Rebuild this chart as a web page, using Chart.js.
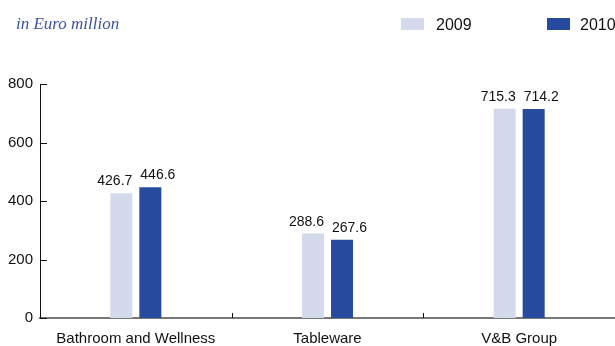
<!DOCTYPE html>
<html>
<head>
<meta charset="utf-8">
<script src="https://cdn.jsdelivr.net/npm/chart.js@4/dist/chart.umd.min.js"></script>
<style>
  html, body { margin: 0; padding: 0; background: #ffffff; }
  #wrap { width: 615px; height: 346px; position: relative; }
</style>
</head>
<body>
<div id="wrap"><canvas id="c" width="615" height="346"></canvas></div>
<script>
// Segment revenue, in Euro million
const categories = ['Bathroom and Wellness', 'Tableware', 'V&B Group'];
const seriesNames = ['2009', '2010'];
const values2009 = [426.7, 288.6, 715.3];
const values2010 = [446.6, 267.6, 714.2];
const yTicks = [0, 200, 400, 600, 800];
const unitLabel = 'in Euro million';

const LIGHT = '#d3daeb';
const DARK = '#264b9e';
const SANS = '"Liberation Sans", Arial, Helvetica, sans-serif';

// Title, legend, inward axis ticks, category separators and value labels
const decorations = {
  id: 'decorations',
  afterDatasetsDraw(chart) {
    const ctx = chart.ctx;
    const x = chart.scales.x, y = chart.scales.y;
    const area = chart.chartArea;
    ctx.save();

    // y-axis tick marks pointing into the plot
    ctx.strokeStyle = '#111';
    ctx.lineWidth = 1;
    yTicks.forEach(v => {
      const py = Math.round(y.getPixelForValue(v)) + 0.5;
      ctx.beginPath();
      ctx.moveTo(area.left, py);
      ctx.lineTo(area.left + 7, py);
      ctx.stroke();
    });

    // short separators between categories on the x axis
    for (let i = 0; i < categories.length - 1; i++) {
      const px = Math.round((x.getPixelForValue(i) + x.getPixelForValue(i + 1)) / 2) + 0.5;
      ctx.beginPath();
      ctx.moveTo(px, area.bottom);
      ctx.lineTo(px, area.bottom - 5);
      ctx.stroke();
    }

    // value labels above bars: first series flush right with its bar,
    // second series flush left with its bar, so the pair never overlaps
    ctx.fillStyle = '#111';
    ctx.font = '14px ' + SANS;
    ctx.textBaseline = 'alphabetic';
    chart.data.datasets.forEach((ds, di) => {
      chart.getDatasetMeta(di).data.forEach((bar, i) => {
        const half = bar.width / 2;
        if (di === 0) {
          ctx.textAlign = 'right';
          ctx.fillText(ds.data[i].toFixed(1), bar.x + half, bar.y - 8);
        } else {
          ctx.textAlign = 'left';
          ctx.fillText(ds.data[i].toFixed(1), bar.x - half + 1, bar.y - 8);
        }
      });
    });

    // unit title
    ctx.textAlign = 'left';
    ctx.fillStyle = '#3b55a3';
    ctx.font = 'italic 17px "Liberation Serif", "Times New Roman", serif';
    ctx.fillText(unitLabel, 16, 29);

    // legend
    const legendX = [401, 547];
    const textX = [436, 580];
    ctx.font = '16px ' + SANS;
    chart.data.datasets.forEach((ds, di) => {
      ctx.fillStyle = ds.backgroundColor;
      ctx.fillRect(legendX[di], 18, 23, 12);
      ctx.fillStyle = '#111';
      ctx.fillText(ds.label, textX[di], 30);
    });

    ctx.restore();
  }
};

new Chart(document.getElementById('c'), {
  type: 'bar',
  data: {
    labels: categories,
    datasets: [
      { label: seriesNames[0], data: values2009, backgroundColor: LIGHT,
        categoryPercentage: 0.3026, barPercentage: 0.7586 },
      { label: seriesNames[1], data: values2010, backgroundColor: DARK,
        categoryPercentage: 0.3026, barPercentage: 0.7586 }
    ]
  },
  options: {
    responsive: false,
    animation: false,
    devicePixelRatio: 1,
    layout: { padding: { top: 84, right: 0, left: 0, bottom: 0 } },
    plugins: {
      legend: { display: false },
      title: { display: false },
      tooltip: { enabled: false }
    },
    scales: {
      x: {
        grid: { display: false, drawTicks: false },
        border: { display: true, color: '#777777', width: 2 },
        ticks: { color: '#111', font: { family: SANS, size: 15 }, padding: 12, maxRotation: 0 },
        afterFit(scale) { scale.height = 28; }
      },
      y: {
        min: 0,
        max: 800,
        afterBuildTicks(scale) { scale.ticks = yTicks.map(v => ({ value: v })); },
        grid: { display: false, drawTicks: false },
        border: { display: true, color: '#111111', width: 1 },
        ticks: { color: '#111', font: { family: SANS, size: 15 }, padding: 7 },
        afterFit(scale) { scale.width = 40; }
      }
    }
  },
  plugins: [decorations]
});
</script>
</body>
</html>
